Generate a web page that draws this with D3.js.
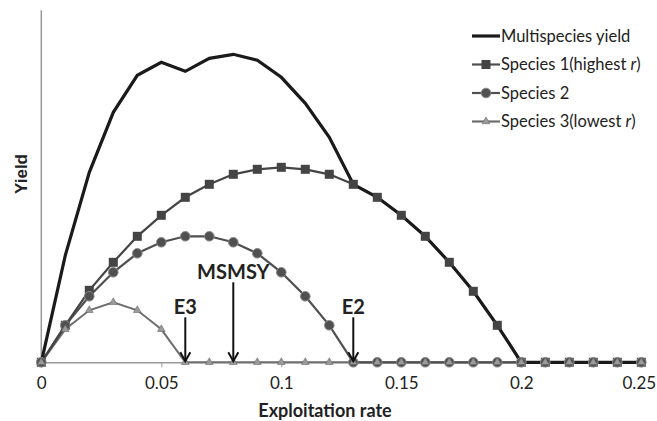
<!DOCTYPE html>
<html><head><meta charset="utf-8">
<script src="https://cdn.jsdelivr.net/npm/d3@7"></script>
<style>
html,body{margin:0;padding:0;background:#fff;}
svg{display:block;font-family:Lato,"Open Sans",sans-serif;}
</style></head>
<body>
<svg id="chart" width="657" height="421"></svg>
<script>
// Exploitation rates 0 .. 0.25 step 0.01
const rates = [0,0.01,0.02,0.03,0.04,0.05,0.06,0.07,0.08,0.09,0.10,0.11,0.12,0.13,0.14,0.15,0.16,0.17,0.18,0.19,0.20,0.21,0.22,0.23,0.24,0.25];
// Yield (arbitrary units)
const species1 = [0,37,72,100,126,147,165,178,188,193,195,193,188,178,165,147,126,100,71,37,0,0,0,0,0,0];
const species2 = [0,37,66,90,109,120,126,126,120,109,90,66,37,0,0,0,0,0,0,0,0,0,0,0,0,0];
const species3 = [0,33,52,60,52,33,0,0,0,0,0,0,0,0,0,0,0,0,0,0,0,0,0,0,0,0];
const multispecies = [0,107,190,250,287,300,291,304,308,302,285,259,225,178,165,147,126,100,71,37,0,0,0,0,0,0];
const xTicks = [0,0.05,0.1,0.15,0.2,0.25];
const xTickLabels = ["0","0.05","0.1","0.15","0.2","0.25"];
const legendLabels = ["Multispecies yield","Species 1(highest r)","Species 2","Species 3(lowest r)"];
const annotations = [{label:"E3", x:0.06, h:45},{label:"MSMSY", x:0.08, h:80},{label:"E2", x:0.13, h:45}];

const svg = d3.select("#chart");
const x = d3.scaleLinear().domain([0,0.25]).range([41.3,641.3]);
const y = d3.scaleLinear().domain([0,352]).range([362.3,10.3]);

// y axis line
svg.append("line").attr("x1",x(0)).attr("x2",x(0)).attr("y1",y(352)).attr("y2",y(0))
  .attr("stroke","#9a9a9a").attr("stroke-width",1.5);

// x axis
const xAxis = d3.axisBottom(x).tickValues(xTicks).tickFormat((d,i)=>xTickLabels[i]).tickSize(5).tickSizeOuter(0);
const gx = svg.append("g").attr("transform",`translate(0,${y(0)})`).call(xAxis);
gx.select(".domain").attr("stroke","#9a9a9a").attr("stroke-width",1.5);
gx.selectAll(".tick line").attr("stroke","#9a9a9a");
gx.selectAll(".tick text").attr("font-family","Lato,'Open Sans',sans-serif").attr("font-size",17).attr("fill","#222").attr("y",0).attr("dy","1.6em")
  .attr("dx",(d,i)=> i===xTicks.length-1 ? -2.5 : 0);

svg.append("text").attr("x",325).attr("y",417).attr("text-anchor","middle")
  .attr("font-weight","bold").attr("font-size",18).attr("fill","#222").text("Exploitation rate");
svg.append("text").attr("transform","translate(27,174) rotate(-90)").attr("text-anchor","middle")
  .attr("font-family","'Liberation Sans',Arial,sans-serif")
  .attr("font-weight","bold").attr("font-size",17).attr("fill","#222").text("Yield");

const line = d3.line().x((d,i)=>x(rates[i])).y(d=>y(d));

// species 3
svg.append("path").datum(species3).attr("d",line).attr("fill","none").attr("stroke","#6e6e6e").attr("stroke-width",2);
// species 2
svg.append("path").datum(species2).attr("d",line).attr("fill","none").attr("stroke","#4f4f4f").attr("stroke-width",2.2);
// species 1
svg.append("path").datum(species1).attr("d",line).attr("fill","none").attr("stroke","#444").attr("stroke-width",2.2);
// multispecies
svg.append("path").datum(multispecies).attr("d",line).attr("fill","none").attr("stroke","#1a1a1a").attr("stroke-width",3.2);

// markers species 1
svg.append("g").selectAll("rect").data(species1).join("rect")
  .attr("x",(d,i)=>x(rates[i])-4.5).attr("y",d=>y(d)-4.5).attr("width",9).attr("height",9)
  .attr("fill","#444");
// markers species 2
svg.append("g").selectAll("circle").data(species2).join("circle")
  .attr("cx",(d,i)=>x(rates[i])).attr("cy",d=>y(d)).attr("r",4.8)
  .attr("fill","#505050").attr("stroke","#8a8a8a").attr("stroke-width",1);
// markers species 3
const tri = d3.symbol().type(d3.symbolTriangle).size(26);
svg.append("g").selectAll("path").data(species3).join("path")
  .attr("transform",(d,i)=>`translate(${x(rates[i])},${y(d)})`).attr("d",tri)
  .attr("fill","#9a9a9a").attr("stroke","#6a6a6a").attr("stroke-width",0.6);

// annotations
annotations.forEach(a=>{
  const ax = x(a.x), base = y(0);
  const top = base - a.h;
  svg.append("line").attr("x1",ax).attr("x2",ax).attr("y1",top).attr("y2",base-1)
    .attr("stroke","#111").attr("stroke-width",2);
  svg.append("path").attr("d",`M${ax-5},${base-10}L${ax},${base-1}L${ax+5},${base-10}`)
    .attr("fill","none").attr("stroke","#111").attr("stroke-width",2);
  svg.append("text").attr("x",ax).attr("y",top-3).attr("text-anchor","middle")
    .attr("font-weight","bold").attr("font-size",20).attr("fill","#222").text(a.label);
});

// legend
const lg = svg.append("g");
legendLabels.forEach((lab,i)=>{
  const ly = 36 + i*28.5;
  const g = lg.append("g");
  if(i===0){
    g.append("line").attr("x1",472).attr("x2",500).attr("y1",ly).attr("y2",ly).attr("stroke","#1a1a1a").attr("stroke-width",3.2);
  } else {
    g.append("line").attr("x1",472).attr("x2",500).attr("y1",ly).attr("y2",ly)
      .attr("stroke",i===3?"#6e6e6e":"#4f4f4f").attr("stroke-width",2.2);
    if(i===1) g.append("rect").attr("x",481.5).attr("y",ly-4.5).attr("width",9).attr("height",9).attr("fill","#444");
    if(i===2) g.append("circle").attr("cx",486).attr("cy",ly).attr("r",4.8).attr("fill","#505050").attr("stroke","#8a8a8a");
    if(i===3) g.append("path").attr("transform",`translate(486,${ly})`).attr("d",tri).attr("fill","#9a9a9a").attr("stroke","#6a6a6a").attr("stroke-width",0.6);
  }
  const t = g.append("text").attr("x",501).attr("y",ly).attr("dy","0.35em").attr("font-size",16.5).attr("fill","#222");
  if(lab.endsWith(" r)")){
    t.append("tspan").text(lab.slice(0,-2));
    t.append("tspan").attr("font-style","italic").text(" r");
    t.append("tspan").text(")");
  } else t.text(lab);
});
</script>
</body></html>
